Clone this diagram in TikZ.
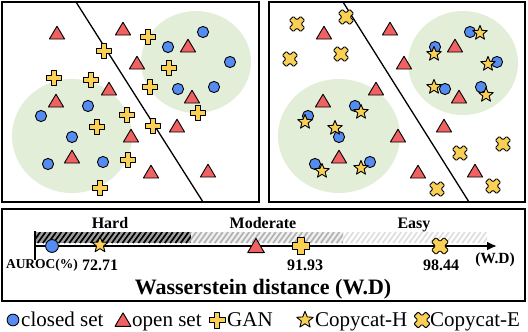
\documentclass[tikz,border=0pt]{standalone}
\usepackage{fontspec}
\setmainfont{Liberation Serif}
\usetikzlibrary{arrows.meta}
\definecolor{cblue}{RGB}{84,140,242}
\definecolor{cred}{RGB}{240,98,98}
\definecolor{cyel}{RGB}{250,208,84}
\definecolor{cgreen}{RGB}{226,238,216}
\tikzset{
  mk/.style={draw=black, line width=0.9pt, line join=round},
  cir/.pic={\path[mk,fill=cblue] (0,0) circle (5.6);},
  tri/.pic={\path[mk,fill=cred] (0,-6.8) -- (7.6,6) -- (-7.6,6) -- cycle;},
  pls/.pic={\path[mk,fill=cyel] (-2.8,-7.6) -- (2.8,-7.6) -- (2.8,-2.8) -- (7.6,-2.8) -- (7.6,2.8) -- (2.8,2.8) -- (2.8,7.6) -- (-2.8,7.6) -- (-2.8,2.8) -- (-7.6,2.8) -- (-7.6,-2.8) -- (-2.8,-2.8) -- cycle;},
  xm/.pic={\path[mk,fill=cyel,rotate=45,rounded corners=1.0] (-2.9,-8) -- (2.9,-8) -- (2.9,-2.9) -- (8,-2.9) -- (8,2.9) -- (2.9,2.9) -- (2.9,8) -- (-2.9,8) -- (-2.9,2.9) -- (-8,2.9) -- (-8,-2.9) -- (-2.9,-2.9) -- cycle;},
  str/.pic={\path[mk,fill=cyel] (-90:7.6) -- (-54:3.3) -- (-18:7.6) -- (18:3.3) -- (54:7.6) -- (90:3.3) -- (126:7.6) -- (162:3.3) -- (198:7.6) -- (234:3.3) -- cycle;},
  panel/.style={draw=black, line width=2pt},
  sep/.style={draw=black, line width=1.3pt},
  blob/.style={fill=cgreen},
  lab/.style={font=\fontsize{16}{18}\selectfont\bfseries, inner sep=0pt},
  leg/.style={font=\fontsize{21}{24}\selectfont, inner sep=0pt, anchor=base west},
}
\begin{document}
\begin{tikzpicture}[x=1pt,y=-1pt]
\useasboundingbox (0,0) rectangle (528,332);
% ---------- left panel
\fill[blob] (72,136) ellipse [x radius=60, y radius=57];
\fill[blob] (196,62) ellipse [x radius=55, y radius=51];
\coordinate (s1a) at (76,2);
\coordinate (s1b) at (203,202);
\draw[sep] (s1a) -- (s1b);
\foreach \x/\y in {57/33,123/29,188/46,137/63,109/89,56/101,192/97,177/126,131/136,72/157,151/172,208/171}
  \pic at (\x,\y) {tri};
\foreach \x/\y in {203/32,168/47,230/62,178/89,214/87,88/106,41/116,72/137,48/164,103/162}
  \pic at (\x,\y) {cir};
\foreach \x/\y in {148/37,104/51,169/68,150/87,54/78,91/80,127/115,97/127,153/126,198/113,128/160,100/188}
  \pic at (\x,\y) {pls};
\draw[panel] (2,2) rectangle (259,202);
% ---------- right panel
\fill[blob] (339,136) ellipse [x radius=61, y radius=57];
\fill[blob] (463,63) ellipse [x radius=55, y radius=52];
\coordinate (s2a) at (343,2);
\coordinate (s2b) at (469,202);
\draw[sep] (s2a) -- (s2b);
\foreach \x/\y in {57/33,123/29,188/46,137/63,109/89,56/101,192/97,177/126,131/136,72/157,151/172,208/171}
  \pic at (\x+267,\y) {tri};
\foreach \x/\y in {203/32,168/47,230/62,178/89,214/87,88/106,41/116,72/137,48/164,103/162}
  \pic at (\x+267,\y) {cir};
\foreach \x/\y in {480/33,434/54,488/64,434/87,486/95,361/112,305/122,335/128,322/171,361/168}
  \pic at (\x,\y) {str};
\foreach \x/\y in {297/24,346/17,290/59,341/54,503/144,460/153,493/186,437/189}
  \pic at (\x,\y) {xm};
\draw[panel] (269,2) rectangle (525,202);
% ---------- bottom box
\draw[panel] (2,209) rectangle (525,301);
% hatch band
\begin{scope}
  \clip (35,232) rectangle (191,243);
  \fill[black!38] (35,232) rectangle (191,243);
  \foreach \i in {0,...,32} \draw[line width=1.7pt] ({27+\i*5.3},243) -- ({27+\i*5.3+8},232);
\end{scope}
\begin{scope}
  \clip (191,232) rectangle (343,243);
  \fill[black!6] (191,232) rectangle (343,243);
  \foreach \i in {0,...,32} \draw[black!30,line width=1.7pt] ({183+\i*5.3},243) -- ({183+\i*5.3+8},232);
\end{scope}
\begin{scope}
  \clip (343,232) rectangle (487,243);
  \foreach \i in {0,...,32} \draw[black!13,line width=1.7pt] ({335+\i*5.3},243) -- ({335+\i*5.3+8},232);
\end{scope}
\coordinate (ax0) at (35,246);
\coordinate (ax1) at (497,246);
\coordinate (tk0) at (35,231);
\coordinate (tk1) at (35,260);
\draw[line width=2.6pt] (tk0) -- (tk1);
\draw[line width=2.6pt,-{Latex[length=10pt,width=9pt]}] (ax0) -- (ax1);
\pic[scale=1.15] at (52,246) {cir};
\pic[scale=1.1] at (100,245) {str};
\pic[scale=1.1] at (256,246) {tri};
\pic[scale=1.1] at (301,246) {pls};
\pic[scale=1.1] at (440,246) {xm};
\node[lab,anchor=base] (hard) at (110,228) {Hard};
\node[lab,anchor=base] (mod) at (263,228) {Moderate};
\node[lab,anchor=base] (easy) at (414,228) {Easy};
\node[inner sep=0pt,anchor=base,font=\fontsize{13.5}{15}\selectfont\bfseries] (auroc) at (42,268) {AUROC(\%)};
\node[lab,anchor=base] (v1) at (100,270) {72.71};
\node[lab,anchor=base] (v2) at (305,270) {91.93};
\node[lab,anchor=base] (v3) at (441,270) {98.44};
\node[inner sep=0pt,anchor=base,font=\fontsize{15.5}{17}\selectfont\bfseries] (wd) at (495,263) {(W.D)};
\node[inner sep=0pt,anchor=base,font=\fontsize{22}{24}\selectfont\bfseries] (title) at (263,294) {Wasserstein distance (W.D)};
% ---------- legend
\pic[scale=1.05] at (13,320) {cir};
\node[leg] (l1) at (21,326) {closed set};
\pic[scale=1.05] at (123,320) {tri};
\node[leg] (l2) at (132,326) {open set};
\pic[scale=1.05] at (217,320) {pls};
\node[leg] (l3) at (227,326) {GAN};
\pic[scale=1.15] at (305,320) {str};
\node[leg] (l4) at (315,326) {Copycat-H};
\pic[scale=1.05] at (422,320) {xm};
\node[leg] (l5) at (430,326) {Copycat-E};
\end{tikzpicture}
\end{document}
